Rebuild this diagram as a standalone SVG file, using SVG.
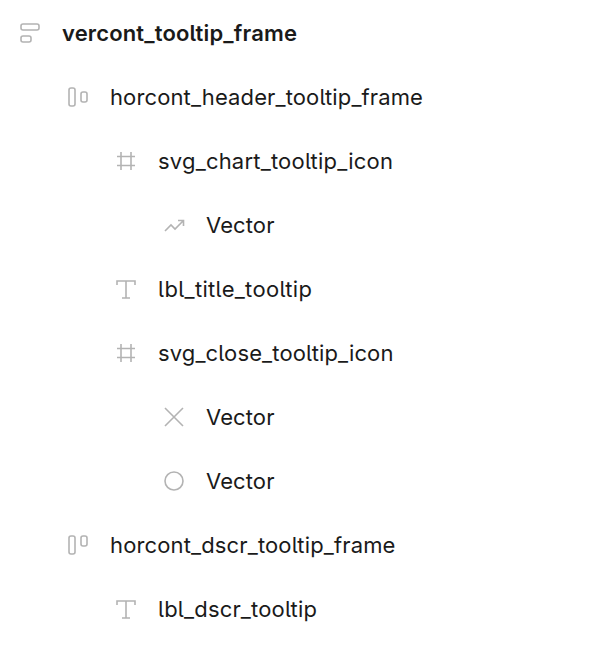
<svg xmlns="http://www.w3.org/2000/svg" width="608" height="650" viewBox="0 0 608 650">
<style>
text{font-family:Inter,"Liberation Sans",sans-serif;font-size:22px;fill:#1a1a1a;font-feature-settings:"cv05";letter-spacing:.1px}
.b{font-weight:600}
.i{fill:none;stroke:#b3b3b3;stroke-width:1.600}
</style>
<rect width="608" height="650" fill="#fff"/>
<g id="connectors"/>
<g id="n1"><g class="i"><rect x="21" y="24" width="18" height="6" rx="2"/><rect x="21" y="36" width="10" height="6" rx="2"/></g><text class="b" x="62" y="40.500" textLength="235">vercont_tooltip_frame</text></g>
<g id="n2"><g class="i"><rect x="69" y="88" width="6" height="18" rx="2"/><rect x="81" y="92" width="6" height="10" rx="2"/></g><text x="110" y="104.500" textLength="313">horcont_header_tooltip_frame</text></g>
<g id="n3"><path class="i" d="M121 152V170M131 152V170M117 156.500H135M117 165.500H135"/><text x="158" y="168.500" textLength="235">svg_chart_tooltip_icon</text></g>
<g id="n4"><path class="i" d="M165 231L171 225L175 229L183 221M178 220.500H183.500V226"/><text x="206" y="232.500">Vector</text></g>
<g id="n5"><path class="i" d="M117 285V281H135V285M126 281V298M122 298H130"/><text x="158" y="296.500" textLength="154">lbl_title_tooltip</text></g>
<g id="n6"><path class="i" d="M121 344V362M131 344V362M117 348.500H135M117 357.500H135"/><text x="158" y="360.500" textLength="235.500">svg_close_tooltip_icon</text></g>
<g id="n7"><path class="i" d="M165 408L183 426M183 408L165 426"/><text x="206" y="424.500">Vector</text></g>
<g id="n8"><circle class="i" cx="174" cy="481" r="9"/><text x="206" y="488.500">Vector</text></g>
<g id="n9"><g class="i"><rect x="69" y="536" width="6" height="18" rx="2"/><rect x="81" y="536" width="6" height="10" rx="2"/></g><text x="110" y="552.500" textLength="285.500">horcont_dscr_tooltip_frame</text></g>
<g id="n10"><path class="i" d="M117 605V601H135V605M126 601V618M122 618H130"/><text x="158" y="616.500" textLength="159">lbl_dscr_tooltip</text></g>
</svg>
